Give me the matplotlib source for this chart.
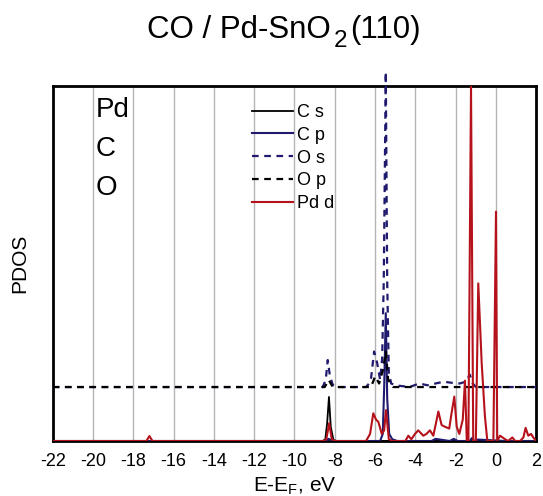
import matplotlib
matplotlib.use("Agg")
import matplotlib.pyplot as plt

plt.rcParams['font.family'] = ['Liberation Sans', 'DejaVu Sans']
plt.rcParams['mathtext.fontset'] = 'custom'
plt.rcParams['mathtext.rm'] = 'Liberation Sans'
plt.rcParams['mathtext.it'] = 'Liberation Sans'
plt.rcParams['mathtext.default'] = 'regular'

# ---------------- data ----------------
x_ticks = [-22, -20, -18, -16, -14, -12, -10, -8, -6, -4, -2, 0, 2]
series_labels = ["C s", "C p", "O s", "O p", "Pd d"]
element_labels = ["Pd", "C", "O"]
title_parts = ["CO / Pd-SnO", "2", "(110)"]

cs_e = [-22, -8.6, -8.47, -8.38, -8.29, -8.2, -8.07, -7.9, 2]
cs_v = [0, 0, 0.005, 0.05, 0.124, 0.04, 0.003, 0, 0]

cp_e = [-22, -8.5, -8.3, -8.1, -5.75, -5.62, -5.55, -5.47, -5.4, -5.3, -5.15, -4.9,
        -3.2, -3.0, -2.3, -2.1, -1.9, -1.3, -1.2, -1.1, -0.9, 0.5, 2]
cp_v = [0, 0, 0.006, 0, 0, 0.02, 0.15, 0.36, 0.12, 0.02, 0.005, 0,
        0, 0.006, 0, 0.006, 0, 0, 0.008, 0, 0.004, 0, 0]

os_e = [-22, -8.6, -8.45, -8.35, -8.25, -8.1, -7.9, -6.45, -6.3, -6.2, -6.05, -5.9,
        -5.75, -5.65, -5.57, -5.47, -5.4, -5.32, -5.2, -5.0, -4.3, -3.8, -3.4,
        -3.0, -2.6, -2.2, -1.8, -1.5, -1.3, -1.15, -1.0, 2]
os_v = [0, 0, 0.02, 0.076, 0.034, 0.006, 0, 0, 0.01, 0.025, 0.1, 0.068,
        0.02, 0.08, 0.3, 0.888, 0.3, 0.04, 0.01, 0.005, 0, 0.01, 0.005,
        0.01, 0.015, 0.012, 0.01, 0.015, 0.035, 0.01, 0, 0]

op_e = [-22, -8.5, -8.3, -8.1, -6.2, -6.0, -5.8, -5.6, -5.47, -5.35, -5.1, 2]
op_v = [0, 0, 0.02, 0, 0, 0.03, 0.01, 0.05, 0.1, 0.02, 0, 0]
o_offset = 0.152

pd_e = [-22, -17.35, -17.2, -17.05, -8.55, -8.42, -8.28, -8.15, -8.0,
        -6.45, -6.25, -6.09, -5.95, -5.84, -5.67, -5.55, -5.46, -5.32, -5.15,
        -4.5, -4.35, -4.2, -4.02, -3.86, -3.61, -3.45, -3.28, -3.11, -2.86, -2.7,
        -2.53, -2.32, -2.23, -2.07, -1.95, -1.82, -1.65, -1.54, -1.45, -1.37,
        -1.24, -1.13, -1.0, -0.88, -0.71, -0.55, -0.43, -0.13, 0.0, 0.06, 0.2,
        0.45, 0.6, 0.81, 0.95, 1.2, 1.36, 1.47, 1.6, 1.74, 1.85, 2.0]
pd_v = [0, 0, 0.014, 0, 0, 0.005, 0.05, 0.005, 0,
        0, 0.02, 0.078, 0.06, 0.054, 0.02, 0.03, 0.087, 0.005, 0,
        0, 0.015, 0.005, 0.02, 0.03, 0.015, 0.02, 0.03, 0.015, 0.083, 0.045,
        0.04, 0.035, 0.07, 0.125, 0.04, 0.02, 0.06, 0.17, 0, 0,
        1.0, 0, 0, 0.444, 0.219, 0.07, 0, 0, 0.646, 0, 0.015,
        0.005, 0, 0.01, 0, 0, 0.01, 0.037, 0.015, 0.02, 0.01, 0]

# ---------------- styles ----------------
navy = '#1f1a6e'
red = '#b5121b'
W, H = 543, 496

fig = plt.figure(figsize=(W / 100, H / 100), dpi=100)
ax = fig.add_axes([52.7 / W, 55 / H, (536.3 - 52.7) / W, (441 - 86) / H])

for xt in x_ticks:
    ax.axvline(xt, color='#b4b4b4', lw=1.0, zorder=1)

ax.plot(cs_e, cs_v, color='black', lw=1.3, label=series_labels[0], zorder=3)
ax.plot(cp_e, cp_v, color=navy, lw=1.5, label=series_labels[1], zorder=3)
ax.plot(os_e, [v + o_offset for v in os_v], color=navy, lw=1.6,
        linestyle=(0, (3, 2.5)), label=series_labels[2], zorder=3, clip_on=False)
ax.plot(op_e, [v + o_offset for v in op_v], color='black', lw=1.6,
        linestyle=(0, (3, 2.5)), label=series_labels[3], zorder=3)
ax.plot(pd_e, pd_v, color=red, lw=1.5, label=series_labels[4], zorder=3)

ax.set_xlim(-22, 2)
ax.set_ylim(0, 1.0)
ax.set_xticks(x_ticks)
ax.set_xticklabels([str(t) for t in x_ticks])
ax.set_yticks([])
ax.tick_params(axis='x', length=0, pad=9, labelsize=13)
for s in ax.spines.values():
    s.set_linewidth(2.0)
    s.set_color('black')

ax.set_xlabel(r"E-E$_F$, eV", fontsize=15, labelpad=4)
ax.set_ylabel("PDOS", fontsize=15, labelpad=17)

# title built from pieces (large, lowered subscript)
renderer = fig.canvas.get_renderer()
x_px = 147
base_px = 38
t1 = fig.text(x_px / W, 1 - base_px / H, title_parts[0], fontsize=22.5, va='baseline', ha='left')
w1 = t1.get_window_extent(renderer).width
x_px += w1 + 3
t2 = fig.text(x_px / W, 1 - (base_px + 9) / H, title_parts[1], fontsize=17.5, va='baseline', ha='left')
w2 = t2.get_window_extent(renderer).width
x_px += w2 + 3
fig.text(x_px / W, 1 - base_px / H, title_parts[2], fontsize=22.5, va='baseline', ha='left')

for i, lab in enumerate(element_labels):
    fig.text(96 / W, 1 - (117.3 + 39 * i) / H, lab, fontsize=20, ha='left', va='baseline')

ax.legend(loc='upper left', bbox_to_anchor=(251.7 / W, 1 - 104 / H),
          bbox_transform=fig.transFigure, frameon=False, fontsize=13,
          borderpad=0, borderaxespad=0, handlelength=2.3, handletextpad=0.19,
          labelspacing=0.32)

fig.savefig("out.png", dpi=100)
